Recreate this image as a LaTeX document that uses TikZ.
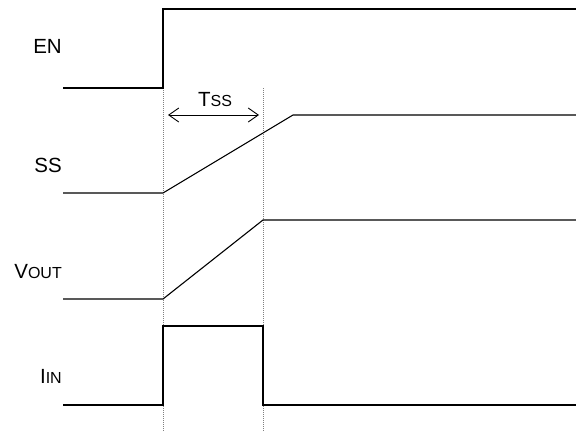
\documentclass[tikz,border=0pt]{standalone}
\usepackage{fontspec}
\setmainfont{Liberation Sans}
\usetikzlibrary{arrows.meta}
\newcommand{\smc}[1]{{\fontsize{16}{16}\selectfont #1}}

\begin{document}
\begin{tikzpicture}[x=1pt,y=-1pt,
		sig/.style={line width=1.1pt,black},
		guide/.style={gray,line width=0.7pt,dash pattern=on 1pt off 1pt},
		lbl/.style={anchor=base east,inner sep=0pt,font=\fontsize{20.5}{24}\selectfont}]
			\useasboundingbox (0,0) rectangle (576,431);
			\coordinate (t0) at (163,88);
			\coordinate (t1) at (263,88);
			\draw[guide] (t0) -- (163,431);
			\draw[guide] (t1) -- (263,431);
			% signals
			\draw[sig] (63,88) -- (t0) -- (163,9) -- (576,9);
			\draw[sig] (63,193) -- (163,193) -- (293,115) -- (576,115);
			\draw[sig] (63,299) -- (163,299) -- (263,220) -- (576,220);
			\draw[sig] (63,405) -- (163,405) -- (163,326) -- (263,326) -- (263,405) -- (576,405);
			% soft start time
			\coordinate (a0) at (168,115);
			\coordinate (a1) at (259,115);
			\draw[line width=0.9pt,{Straight Barb[length=10pt,width=14pt]}-{Straight Barb[length=10pt,width=14pt]}] (a0) -- (a1);
			\node[anchor=base,inner sep=0pt,font=\fontsize{20.5}{24}\selectfont] (tss) at (215,106) {T\smc{SS}};
			% labels
			\node[lbl] (en) at (62,53) {EN};
			\node[lbl] (ss) at (62,172) {SS};
			\node[lbl] (vout) at (62,278) {V\smc{OUT}};
			\node[lbl] (iin) at (62,383) {I\smc{IN}};
		\end{tikzpicture}
\end{document}
